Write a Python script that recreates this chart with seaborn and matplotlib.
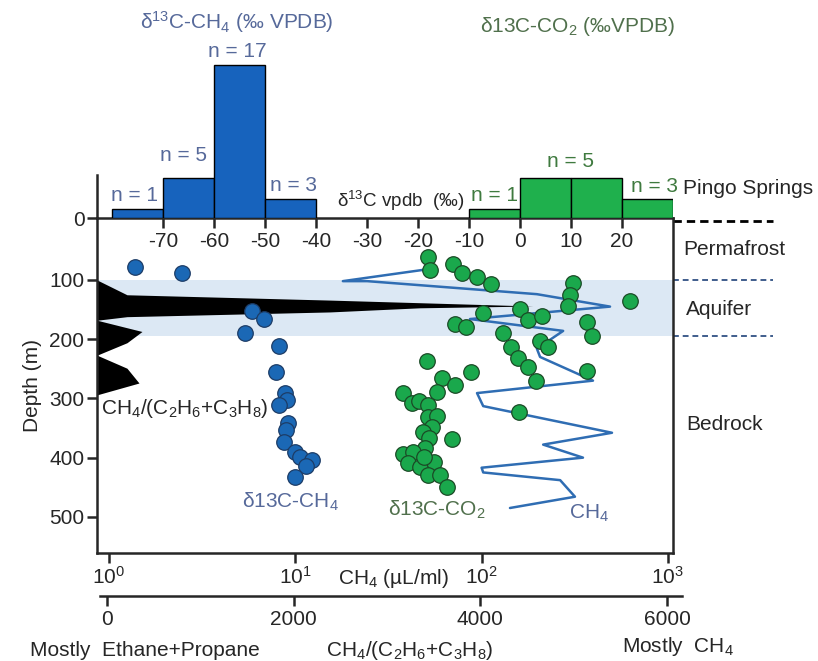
import numpy as np
import pandas as pd
import matplotlib
matplotlib.use("Agg")
import matplotlib.pyplot as plt
import matplotlib.transforms as mtransforms
import seaborn as sns

# d13C-CH4 (permil VPDB) against depth (m)
ch4_d13c = [-75.5, -66.3, -52.5, -50.2, -53.9, -47.2, -47.8, -46.1, -45.7, -47.2,
            -45.4, -45.9, -46.3, -44.1, -43.1, -40.8, -42.0, -44.1]
ch4_d13c_depth = [78, 88, 152, 166, 189, 211, 255, 291, 303, 311,
                  341, 353, 373, 391, 399, 404, 414, 432]

# d13C-CO2 (permil VPDB) against depth (m)
co2_d13c = [-18.0, -17.6, -13.1, -11.4, -8.4, -5.7, 10.4, 9.8, 9.4, 21.6,
            0.0, -7.3, 1.6, 4.3, -12.7, -10.6, 13.1, 14.1, -3.3, 3.9,
            5.5, -1.8, -0.4, 1.6, 3.1, 13.1, -18.2, -9.6, -15.3, -12.7,
            -0.2, -16.3, -22.9, -21.2, -19.8, -18.0, -18.0, -16.3, -17.3, -19.0,
            -17.8, -13.3, -18.6, -22.9, -21.0, -21.9, -19.6, -16.9, -18.0, -15.7,
            -14.3, -18.8]
co2_d13c_depth = [61, 84, 73, 88, 95, 107, 105, 125, 144, 136,
                  149, 156, 168, 161, 174, 179, 171, 195, 189, 203,
                  213, 213, 232, 247, 270, 254, 237, 255, 266, 277,
                  323, 289, 291, 307, 304, 311, 331, 330, 348, 356,
                  367, 368, 384, 394, 390, 409, 416, 407, 429, 429,
                  449, 399]

# CH4 concentration profile (uL/ml)
ch4_conc = [48.5, 18.0, 24.3, 198, 489, 86.6, 274, 198, 206, 396,
            94.5, 102, 501, 214, 350, 100, 102, 264, 317, 142]
ch4_conc_depth = [83, 102, 102, 124, 145, 166, 186, 216, 230, 270,
                  291, 313, 358, 378, 400, 417, 425, 438, 466, 485]

# CH4/(C2H6+C3H8) profile, 0 = on the frame
gas_ratio = [0, 214, 2389, 4564, 3354, 2389, 214, 0, 375, 214, 0, 214, 343, 0, 0]
gas_ratio_depth = [100, 125, 134, 144, 147, 154, 162, 168, 187, 206, 227, 249, 274, 294, 561]

# histograms on top
ch4_bins = [-80, -70, -60, -50, -40]
ch4_bar_height = [1.0, 4.4, 17.0, 2.1]
ch4_n = [1, 5, 17, 3]
co2_bins = [-10, 0, 10, 20, 30]
co2_bar_height = [1.0, 4.5, 4.5, 2.1]
co2_n = [1, 5, 5, 3]

depth_ticks = [100, 200, 300, 400, 500]
d13c_ticks = [-70, -60, -50, -40, -30, -20, -10, 0, 10, 20]
conc_ticks = [1, 10, 100, 1000]
ratio_ticks = [0, 2000, 4000, 6000]
aquifer_top, aquifer_bottom = 100, 195

BLUE_BAR = '#1763bd'
BLUE_DOT = '#1b68b5'
GREEN_BAR = '#1fb04d'
GREEN_DOT = '#1aa84c'
BLUE_TXT = '#56699a'
GREEN_TXT = '#3f7a3f'
LINE = '#2f6db3'

sns.set_style('ticks')
plt.rcParams['font.family'] = ['Liberation Sans', 'DejaVu Sans']
plt.rcParams['mathtext.fontset'] = 'custom'
plt.rcParams['mathtext.rm'] = 'Liberation Sans'
plt.rcParams['mathtext.it'] = 'Liberation Sans:italic'
plt.rcParams['axes.linewidth'] = 1.8
plt.rcParams['axes.unicode_minus'] = False


def sub(s):
    return r'$_{\mathregular{%s}}$' % s


def sup(s):
    return r'$^{\mathregular{%s}}$' % s


W, H = 818, 661


def fx(px):
    return px / W


def fy(py):
    return 1 - py / H


fig = plt.figure(figsize=(W / 100, H / 100), dpi=100)
ax = fig.add_axes([fx(97), fy(553), 576 / W, 335 / H])
ax_log = ax.twiny()
ax_ratio = ax.twiny()
ax_hist = fig.add_axes([fx(97), fy(218), 576 / W, 162 / H], sharex=ax)

ax.set_zorder(3)
ax_log.set_zorder(2)
ax_ratio.set_zorder(1)
ax_hist.set_zorder(4)
for a in (ax, ax_log, ax_ratio, ax_hist):
    a.patch.set_visible(False)

# ratio profile + aquifer band (bottom layer)
ax_ratio.set_xlim(-107, 6064)
xmin = ax_ratio.get_xlim()[0]
ratio_arr = np.array(gas_ratio, dtype=float)
ax_ratio.axhspan(aquifer_top, aquifer_bottom, color='#dce8f4', lw=0, zorder=0)
ax_ratio.fill_betweenx(gas_ratio_depth, xmin, np.where(ratio_arr == 0, xmin, ratio_arr),
                       color='black', lw=0, zorder=1)
for s in ('top', 'left', 'right'):
    ax_ratio.spines[s].set_visible(False)
ax_ratio.spines['bottom'].set_visible(True)
ax_ratio.spines['bottom'].set_position(('outward', 31))
ax_ratio.spines['bottom'].set_bounds(-75, 6161)
ax_ratio.xaxis.set_ticks_position('bottom')
ax_ratio.set_xticks(ratio_ticks)
ax_ratio.tick_params(axis='x', direction='out', length=7, width=1.8, labelsize=15, pad=3)

# CH4 concentration line
ax_log.set_xscale('log')
conc_df = pd.DataFrame({'conc': ch4_conc, 'depth': ch4_conc_depth})
sns.lineplot(data=conc_df, x='conc', y='depth', sort=False, estimator=None,
             color=LINE, lw=1.8, ax=ax_log)
ax_log.set_xlim(0.862, 1065)
for s in ax_log.spines.values():
    s.set_visible(False)
ax_log.xaxis.set_ticks_position('bottom')
ax_log.set_xticks(conc_ticks)
ax_log.xaxis.set_minor_locator(matplotlib.ticker.NullLocator())
ax_log.tick_params(axis='x', direction='out', length=7, width=1.8, labelsize=15, pad=2)
ax_log.set_xlabel('')
ax_log.set_ylabel('')

# isotope points
sns.scatterplot(x=ch4_d13c, y=ch4_d13c_depth, ax=ax, s=125, color=BLUE_DOT,
                edgecolor='#1d3c66', linewidth=0.9, zorder=5)
sns.scatterplot(x=co2_d13c, y=co2_d13c_depth, ax=ax, s=125, color=GREEN_DOT,
                edgecolor='#1b4a26', linewidth=0.9, zorder=5)
ax.set_xlim(-82.9, 30)
ax.set_ylim(561, -4.6)
ax.set_yticks(depth_ticks)
ax.tick_params(axis='y', direction='out', length=7, width=1.8, labelsize=15, pad=2)
ax.tick_params(axis='x', bottom=False, top=False, labelbottom=False, labeltop=False)
ax.set_ylabel('Depth (m)', fontsize=15, labelpad=5)
for s in ax.spines.values():
    s.set_visible(True)
    s.set_linewidth(1.8)

# histograms
sns.histplot(x=[(a + b) / 2 for a, b in zip(ch4_bins[:-1], ch4_bins[1:])], weights=ch4_bar_height,
             bins=ch4_bins, ax=ax_hist, color=BLUE_BAR, edgecolor='black', linewidth=1, alpha=1)
sns.histplot(x=[(a + b) / 2 for a, b in zip(co2_bins[:-1], co2_bins[1:])], weights=co2_bar_height,
             bins=co2_bins, ax=ax_hist, color=GREEN_BAR, edgecolor='black', linewidth=1, alpha=1)
ax_hist.set_ylim(0, 18)
ax_hist.set_xlim(-82.9, 30)
ax_hist.set_ylabel('')
ax_hist.set_yticks([0])
ax_hist.set_xticks(d13c_ticks)
for s in ('top', 'right', 'bottom'):
    ax_hist.spines[s].set_visible(False)
ax_hist.spines['left'].set_bounds(0, 4.8)
ax_hist.tick_params(axis='x', direction='out', length=7, width=1.8, labelsize=15, pad=3)
ax_hist.tick_params(axis='y', direction='out', length=7, width=1.8, labelsize=15, pad=2)

ch4_centers = [(a + b) / 2 for a, b in zip(ch4_bins[:-1], ch4_bins[1:])]
for xc, h, n, dx in zip(ch4_centers, ch4_bar_height, ch4_n, [-0.5, -1, -0.4, 0.6]):
    ax_hist.annotate('n = %d' % n, (xc + dx, h), xytext=(0, 3 if n != 5 else 10),
                     textcoords='offset points', ha='center', va='bottom',
                     fontsize=15, color=BLUE_TXT)
ax_hist.annotate('n = %d' % co2_n[0], ((co2_bins[0] + co2_bins[1]) / 2, co2_bar_height[0]),
                 xytext=(0, 3), textcoords='offset points', ha='center', va='bottom',
                 fontsize=15, color=GREEN_TXT)
ax_hist.annotate('n = %d' % co2_n[1], (co2_bins[2], co2_bar_height[1]),
                 xytext=(0, 5), textcoords='offset points', ha='center', va='bottom',
                 fontsize=15, color=GREEN_TXT)
ax_hist.annotate('n = %d' % co2_n[3], ((co2_bins[3] + co2_bins[4]) / 2 + 1.3, co2_bar_height[3]),
                 xytext=(0, 2), textcoords='offset points', ha='center', va='bottom',
                 fontsize=15, color=GREEN_TXT)

# side dashed lines and zone labels
side = mtransforms.blended_transform_factory(ax.transAxes, ax.transData)
ax.plot([1.0, 1.174], [0, 0], transform=side, clip_on=False, color='black',
        ls=(0, (3, 1.8)), lw=2)
for d in (aquifer_top, aquifer_bottom):
    ax.plot([1.0, 1.174], [d, d], transform=side, clip_on=False, color='#3f5d8c',
            ls=(0, (3, 2)), lw=1.4)

fig.text(fx(683), fy(188), 'Pingo Springs', fontsize=15, va='center')
fig.text(fx(683), fy(250), 'Permafrost', fontsize=15, va='center')
fig.text(fx(686), fy(310), 'Aquifer', fontsize=15, va='center')
fig.text(fx(686), fy(425), 'Bedrock', fontsize=15, va='center')

# titles and labels
fig.text(fx(237), fy(22), 'δ' + sup('13') + 'C-CH' + sub('4') + ' (‰ VPDB)',
         ha='center', va='center', fontsize=15, color=BLUE_TXT)
fig.text(fx(578), fy(27), 'δ13C-CO' + sub('2') + ' (‰VPDB)',
         ha='center', va='center', fontsize=15, color='#50704c')
fig.text(fx(401), fy(201), 'δ' + sup('13') + 'C vpdb  (‰)', ha='center', va='center', fontsize=13.5)
fig.text(fx(185), fy(408), 'CH' + sub('4') + '/(C' + sub('2') + 'H' + sub('6') + '+C' + sub('3')
         + 'H' + sub('8') + ')', ha='center', va='center', fontsize=15)
fig.text(fx(290), fy(502), 'δ13C-CH' + sub('4'), ha='center', va='center',
         fontsize=15, color=BLUE_TXT)
fig.text(fx(437), fy(510), 'δ13C-CO' + sub('2'), ha='center', va='center',
         fontsize=15, color='#50704c')
fig.text(fx(589), fy(513), 'CH' + sub('4'), ha='center', va='center',
         fontsize=15, color=BLUE_TXT)
fig.text(fx(393), fy(579), 'CH' + sub('4') + ' (µL/ml)', ha='center', va='center', fontsize=15)
fig.text(fx(145), fy(651), 'Mostly  Ethane+Propane', ha='center', va='center', fontsize=15)
fig.text(fx(410), fy(651), 'CH' + sub('4') + '/(C' + sub('2') + 'H' + sub('6') + '+C' + sub('3')
         + 'H' + sub('8') + ')', ha='center', va='center', fontsize=15)
fig.text(fx(678), fy(646), 'Mostly  CH' + sub('4'), ha='center', va='center', fontsize=15)

fig.savefig('out.png', dpi=100)
